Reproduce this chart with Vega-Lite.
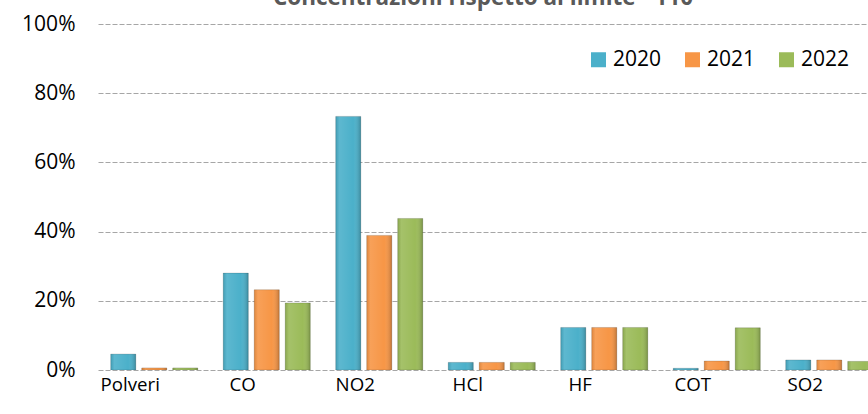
{
  "$schema": "https://vega.github.io/schema/vega-lite/v6.json",
  "width": 770,
  "height": 346,
  "autosize": {"type": "none"},
  "padding": {"left": 98, "top": 24, "right": 0, "bottom": 44},
  "background": "white",
  "title": {
    "text": "Concentrazioni rispetto al limite - 110",
    "font": "Open Sans",
    "fontSize": 22.5,
    "fontWeight": "bold",
    "color": "#595959",
    "anchor": "middle",
    "baseline": "alphabetic",
    "offset": 0,
    "dy": 14
  },
  "config": {
    "view": {"stroke": null},
    "font": "Open Sans"
  },
  "data": {
    "values": [
      {"cat": "Polveri", "year": "2020", "value": 0.046},
      {"cat": "Polveri", "year": "2021", "value": 0.006},
      {"cat": "Polveri", "year": "2022", "value": 0.006},
      {"cat": "CO", "year": "2020", "value": 0.28},
      {"cat": "CO", "year": "2021", "value": 0.232},
      {"cat": "CO", "year": "2022", "value": 0.194},
      {"cat": "NO2", "year": "2020", "value": 0.733},
      {"cat": "NO2", "year": "2021", "value": 0.389},
      {"cat": "NO2", "year": "2022", "value": 0.438},
      {"cat": "HCl", "year": "2020", "value": 0.022},
      {"cat": "HCl", "year": "2021", "value": 0.022},
      {"cat": "HCl", "year": "2022", "value": 0.022},
      {"cat": "HF", "year": "2020", "value": 0.123},
      {"cat": "HF", "year": "2021", "value": 0.123},
      {"cat": "HF", "year": "2022", "value": 0.123},
      {"cat": "COT", "year": "2020", "value": 0.005},
      {"cat": "COT", "year": "2021", "value": 0.026},
      {"cat": "COT", "year": "2022", "value": 0.122},
      {"cat": "SO2", "year": "2020", "value": 0.029},
      {"cat": "SO2", "year": "2021", "value": 0.029},
      {"cat": "SO2", "year": "2022", "value": 0.025}
    ]
  },
  "encoding": {
    "x": {
      "field": "cat",
      "type": "nominal",
      "sort": ["Polveri", "CO", "NO2", "HCl", "HF", "COT", "SO2"],
      "scale": {"range": [0, 787.5], "paddingInner": 0, "paddingOuter": 0},
      "axis": {
        "title": null,
        "labelAngle": 0,
        "labelOffset": -24,
        "labelPadding": 5,
        "labelFontSize": 18.7,
        "labelColor": "#000000",
        "labelFont": "Open Sans",
        "ticks": false,
        "domain": false
      }
    },
    "y": {
      "field": "value",
      "type": "quantitative",
      "scale": {"domain": [0, 1], "nice": false},
      "axis": {
        "title": null,
        "format": ".0%",
        "values": [0, 0.2, 0.4, 0.6, 0.8, 1],
        "labelFontSize": 21,
        "labelColor": "#000000",
        "labelFont": "Open Sans",
        "labelPadding": 23,
        "ticks": false,
        "domain": false,
        "grid": true,
        "gridColor": "#a6a6a6",
        "gridDash": [5, 2],
        "gridWidth": 1
      }
    }
  },
  "layer": [
    {
      "mark": {"type": "rule", "color": "#d9d9d9", "strokeWidth": 3},
      "encoding": {"y": {"datum": 0}}
    },
    {
      "mark": {"type": "bar", "clip": true, "stroke": "#00000033", "strokeWidth": 0.8},
      "encoding": {
        "xOffset": {"field": "year", "type": "nominal", "scale": {"paddingInner": 0.19, "paddingOuter": 0.41}},
        "color": {
          "field": "year",
          "type": "nominal",
          "scale": {"domain": ["2020", "2021", "2022"], "range": ["#4bb0ca", "#f79646", "#9bbb59"]},
          "legend": {
            "title": null,
            "orient": "none",
            "legendX": 490,
            "legendY": 25,
            "direction": "horizontal",
            "symbolType": "square",
            "symbolSize": 225,
            "symbolStrokeWidth": 0,
            "labelFontSize": 21,
            "labelFont": "Open Sans",
            "labelColor": "#000000",
            "labelOffset": 4,
            "columnPadding": 20,
            "padding": 0
          }
        }
      }
    },
    {
      "mark": {
        "type": "bar",
        "clip": true,
        "fill": {
          "gradient": "linear",
          "x1": 0, "x2": 1, "y1": 0, "y2": 0,
          "stops": [
            {"offset": 0, "color": "rgba(0,0,0,0.10)"},
            {"offset": 0.15, "color": "rgba(255,255,255,0.10)"},
            {"offset": 0.7, "color": "rgba(255,255,255,0.0)"},
            {"offset": 1, "color": "rgba(0,0,0,0.22)"}
          ]
        }
      },
      "encoding": {
        "xOffset": {"field": "year", "type": "nominal"}
      }
    }
  ]
}
